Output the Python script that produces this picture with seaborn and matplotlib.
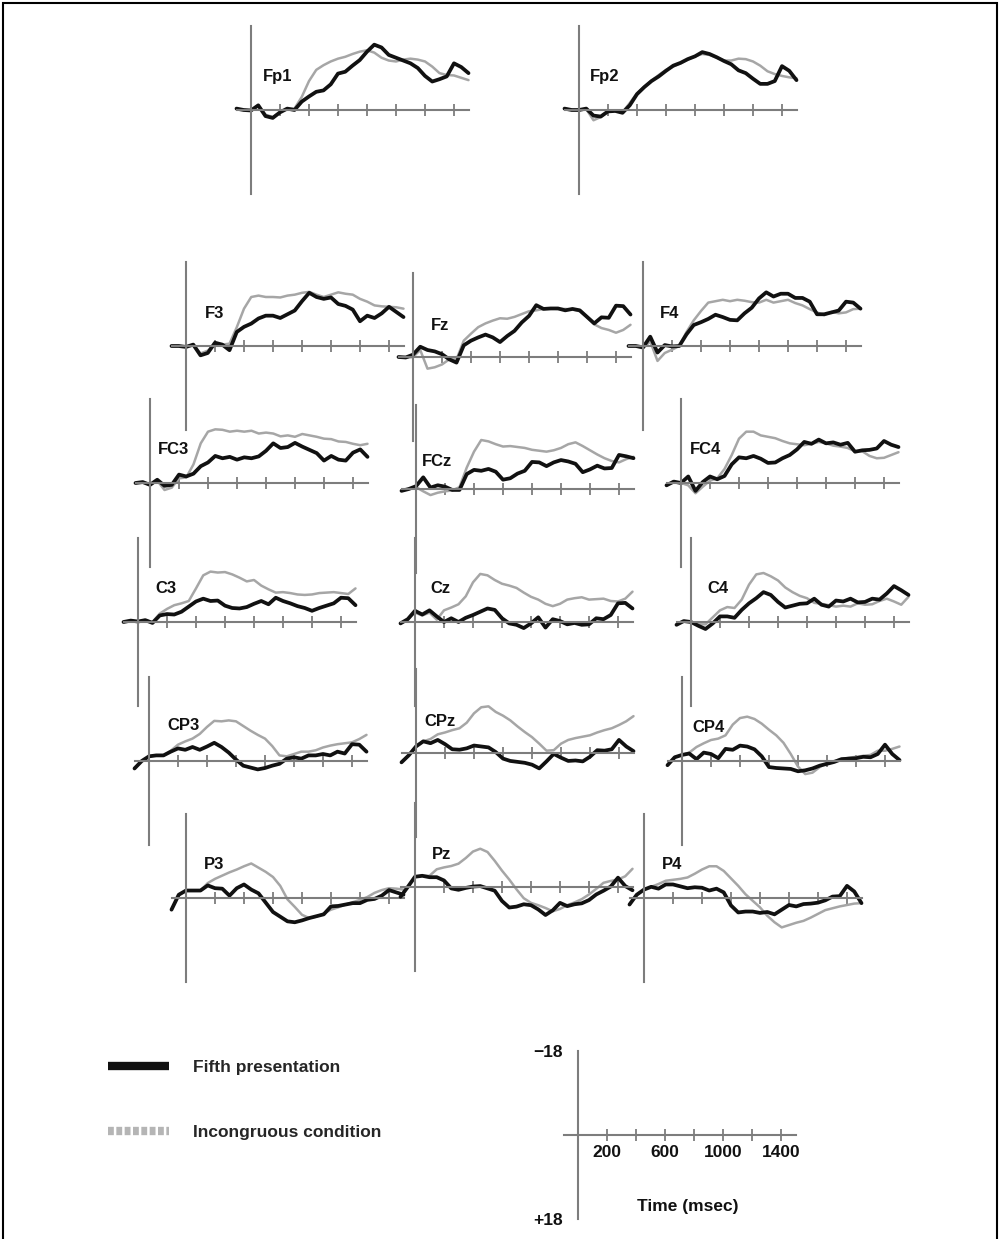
import numpy as np
import matplotlib
matplotlib.use("Agg")
import matplotlib.pyplot as plt
from matplotlib.lines import Line2D
from matplotlib.patches import Rectangle
import seaborn as sns

# time grid (ms) shared by all traces
times = np.arange(-100, 1501, 50)

# amplitudes in microvolts (negative plotted up)
fp1_fifth = [-0.3, 0, 0.1, -1.0, 1.3, 1.7, 0.5, -0.3, 0, -1.8, -2.9, -3.9, -4.2, -5.5, -7.8, -8.2, -9.5, -10.7, -12.5, -14.0, -13.4, -11.8, -11.2, -10.6, -10.0, -9.0, -7.3, -6.1, -6.6, -7.2, -10.0, -9.2, -7.9]
fp1_incong = [-0.3, 0, 0.1, -1.0, 1.0, 1.5, 0.5, -0.3, -0.3, -2.8, -6.2, -8.6, -9.6, -10.4, -11.0, -11.4, -12.0, -12.5, -12.8, -12.3, -11.2, -10.6, -10.4, -10.8, -11.0, -10.8, -10.4, -9.3, -7.9, -7.5, -7.4, -6.9, -6.4]
fp2_fifth = [-0.3, 0, 0, -0.3, 1.2, 1.4, 0.3, 0.2, 0.6, -1.0, -3.4, -4.9, -6.2, -7.2, -8.4, -9.5, -10.1, -10.9, -11.5, -12.4, -12.0, -11.3, -10.5, -9.8, -8.5, -7.9, -6.7, -5.6, -5.6, -6.2, -9.4, -8.4, -6.4]
fp2_incong = [-0.3, 0, 0, -0.2, 2.2, 1.5, 0.3, 0.2, 0.5, -1.5, -3.6, -5.0, -6.3, -7.5, -8.6, -9.3, -10.0, -10.8, -11.5, -12.0, -11.8, -11.2, -10.6, -10.6, -11.0, -10.9, -10.4, -9.5, -8.3, -7.7, -7.3, -7.0, -6.8]
f3_fifth = [0, 0, 0.2, -0.3, 2.0, 1.5, -0.7, -0.3, 0.9, -3.0, -4.1, -4.8, -5.9, -6.5, -6.5, -6.0, -6.8, -7.6, -9.6, -11.4, -10.5, -10.1, -10.4, -9.0, -8.6, -7.8, -5.3, -6.5, -6.0, -7.0, -8.4, -7.3, -6.2]
f3_incong = [0, 0, 0.2, -0.3, 1.6, 1.0, -0.5, -0.3, -0.5, -4.0, -8.0, -10.5, -10.8, -10.5, -10.5, -10.4, -10.8, -11.0, -11.4, -11.6, -11.0, -10.5, -11.0, -11.5, -11.2, -11.0, -10.1, -9.5, -8.7, -8.5, -8.4, -8.3, -8.0]
fz_fifth = [0, 0.1, -0.5, -2.2, -1.5, -1.2, -0.6, 0.5, 1.2, -2.5, -3.5, -4.2, -4.8, -4.2, -3.2, -4.5, -5.6, -7.4, -8.8, -11.1, -10.3, -10.4, -10.4, -10.0, -10.3, -10.0, -8.6, -7.2, -8.5, -8.4, -11.0, -10.9, -9.1]
fz_incong = [0, 0.2, 0, -1.5, 2.5, 2.2, 1.6, 0.5, 0.5, -3.5, -5.0, -6.4, -7.2, -7.8, -8.3, -8.2, -8.6, -9.2, -9.8, -10.0, -10.3, -10.4, -10.3, -10.3, -10.2, -9.8, -8.5, -7.0, -6.2, -5.8, -5.2, -5.8, -6.9]
f4_fifth = [0, 0, 0.3, -2.0, 1.4, -0.2, 0.1, 0, -2.5, -4.5, -5.1, -5.8, -6.7, -6.2, -5.6, -5.5, -7.0, -8.2, -10.2, -11.5, -10.6, -11.2, -11.2, -10.3, -10.3, -9.5, -6.8, -6.8, -7.2, -7.6, -9.5, -9.3, -8.0]
f4_incong = [0, 0, 0.5, -1.0, 3.2, 1.5, 0.8, 0, -3.0, -5.5, -7.5, -9.3, -9.6, -9.9, -9.6, -9.9, -9.7, -9.4, -9.3, -9.9, -9.3, -9.6, -9.9, -9.2, -8.7, -7.9, -7.2, -6.6, -7.3, -7.0, -7.2, -7.9, -8.0]
fc3_fifth = [0, -0.2, 0.4, -0.7, 0.6, 0.4, -1.8, -1.4, -2.0, -3.6, -4.4, -5.8, -5.3, -5.6, -5.0, -5.5, -5.3, -5.7, -6.9, -8.5, -7.5, -7.7, -8.6, -7.8, -7.1, -6.4, -4.8, -5.8, -5.0, -4.8, -6.5, -7.2, -5.6]
fc3_incong = [0, -0.2, 0.4, -0.5, 1.5, 1.0, -1.0, -1.2, -4.0, -8.5, -11.0, -11.5, -11.4, -11.0, -11.2, -11.0, -11.2, -10.6, -10.8, -10.6, -10.0, -10.2, -9.9, -10.5, -10.2, -9.9, -9.5, -9.4, -8.9, -8.8, -8.4, -8.1, -8.4]
fcz_fifth = [0.4, 0, -0.6, -2.5, -0.3, -0.8, -0.5, 0.2, 0.2, -3.2, -4.1, -3.9, -4.3, -3.7, -2.0, -2.3, -3.3, -3.9, -5.8, -5.7, -4.9, -5.7, -6.2, -5.9, -5.4, -3.6, -4.2, -5.0, -4.4, -4.5, -7.3, -7.0, -6.6]
fcz_incong = [0.4, 0, -0.4, 0.5, 1.3, 0.8, 0.5, 0.3, -0.4, -4.6, -8.0, -10.5, -10.2, -9.6, -9.1, -9.2, -9.0, -8.8, -8.4, -8.2, -8.0, -8.3, -8.8, -9.6, -10.0, -9.2, -8.3, -7.4, -6.6, -6.0, -5.7, -6.4, -6.9]
fc4_fifth = [0.5, -0.3, 0, -1.4, 1.7, -0.2, -1.4, -0.8, -1.5, -4.0, -5.5, -5.3, -5.8, -5.2, -4.3, -4.4, -5.3, -6.0, -7.2, -8.8, -8.4, -9.3, -8.5, -8.7, -8.2, -8.6, -6.7, -7.0, -7.1, -7.4, -9.0, -8.2, -7.7]
fc4_incong = [0.5, -0.3, 0, 0.5, 2.2, 0.8, -0.5, -1.0, -3.0, -6.0, -9.5, -11.0, -11.0, -10.2, -9.9, -9.6, -9.0, -8.5, -8.3, -8.1, -8.4, -8.8, -8.5, -8.0, -7.8, -7.5, -6.8, -6.8, -5.8, -5.3, -5.4, -6.0, -6.6]
c3_fifth = [0, -0.3, -0.1, -0.4, 0.2, -1.4, -1.7, -1.6, -2.2, -3.3, -4.4, -5.0, -4.5, -4.6, -3.5, -3.0, -2.9, -3.2, -3.9, -4.5, -3.8, -5.2, -4.5, -4.0, -3.4, -3.0, -2.4, -3.0, -3.5, -4.0, -5.2, -5.1, -3.6]
c3_incong = [0, -0.3, -0.1, -0.4, 0, -1.8, -2.8, -3.6, -4.0, -4.5, -7.2, -10.0, -10.8, -10.6, -10.7, -10.2, -9.5, -8.7, -9.0, -7.8, -7.0, -6.3, -6.4, -6.2, -5.9, -5.8, -5.9, -6.2, -6.3, -6.4, -6.2, -6.0, -7.2]
cz_fifth = [0.3, -0.6, -2.4, -1.6, -2.5, -1.2, 0, -0.8, 0, -0.9, -1.5, -2.2, -2.9, -2.6, -0.8, 0.3, 0.6, 1.3, 0.3, -1.0, 1.2, -0.6, -0.2, 0.5, 0.2, 0.6, 0.5, -0.8, -0.6, -1.5, -4.0, -4.1, -2.9]
cz_incong = [0.3, -0.6, -2.0, -1.4, -2.0, -0.5, -2.5, -3.1, -3.8, -5.5, -8.5, -10.3, -10.0, -9.0, -8.2, -7.8, -7.3, -6.3, -5.4, -4.8, -3.9, -3.4, -3.9, -4.8, -5.1, -5.3, -4.8, -4.9, -5.0, -4.5, -4.4, -5.0, -6.5]
c4_fifth = [0.6, -0.2, 0, 0.8, 1.5, 0.3, -1.2, -1.2, -0.9, -2.6, -4.0, -5.1, -6.4, -5.8, -4.3, -3.1, -3.5, -3.9, -4.0, -5.0, -3.7, -3.3, -4.6, -4.4, -5.0, -4.2, -4.3, -5.0, -4.8, -6.1, -7.7, -6.8, -5.8]
c4_incong = [0.6, -0.2, 0, 0.5, 0.5, -1.0, -2.5, -3.2, -3.0, -4.8, -8.0, -10.2, -10.5, -9.8, -8.9, -7.4, -6.4, -5.6, -5.1, -4.1, -3.9, -3.6, -3.3, -3.5, -3.3, -4.0, -3.7, -3.8, -4.5, -5.0, -4.4, -3.7, -5.4]
cp3_fifth = [1.6, 0, -1.0, -1.2, -1.2, -2.0, -2.7, -2.4, -3.0, -2.4, -3.1, -3.9, -3.0, -1.8, -0.3, 1.0, 1.4, 1.8, 1.5, 1.0, 0.6, -0.5, -0.8, -0.5, -1.2, -1.2, -1.5, -1.2, -2.0, -1.6, -3.6, -3.5, -2.0]
cp3_incong = [1.6, 0, -1.0, -1.2, -1.2, -2.2, -3.5, -4.2, -4.8, -5.8, -7.3, -8.6, -8.5, -8.7, -8.5, -7.5, -6.5, -5.6, -4.8, -3.2, -1.2, -1.0, -1.5, -2.0, -2.0, -2.3, -2.9, -3.3, -3.6, -3.8, -4.0, -4.7, -5.6]
cpz_fifth = [2.0, 0.5, -1.4, -2.5, -2.1, -2.8, -1.9, -0.8, -0.7, -1.0, -1.6, -1.4, -1.2, -0.2, 1.2, 1.7, 1.9, 2.1, 2.5, 3.3, 1.8, 0.2, 1.0, 1.7, 1.6, 1.8, 0.8, -0.6, -0.5, -0.8, -2.8, -1.4, -0.4]
cpz_incong = [2.0, 0.5, -1.4, -2.5, -3.0, -4.0, -4.4, -4.9, -5.3, -6.5, -8.5, -9.8, -10.0, -8.8, -8.0, -7.0, -5.7, -4.5, -3.4, -2.0, -0.5, -0.6, -2.0, -2.8, -3.2, -3.5, -3.8, -4.4, -4.9, -5.3, -6.0, -6.8, -7.9]
cp4_fifth = [0.9, -0.8, -1.3, -1.6, -0.4, -1.8, -1.5, -0.6, -2.6, -2.4, -3.3, -3.1, -2.5, -1.0, 1.3, 1.5, 1.6, 1.7, 2.2, 2.0, 1.6, 1.0, 0.6, 0.2, -0.4, -0.5, -0.6, -0.9, -0.8, -1.5, -3.5, -1.5, -0.2]
cp4_incong = [0.9, -0.8, -1.3, -1.8, -3.0, -3.8, -4.5, -4.8, -5.5, -7.8, -9.2, -9.5, -9.0, -8.0, -6.7, -5.5, -3.9, -1.5, 1.2, 2.8, 2.5, 1.3, 0.4, 0, -0.4, -0.7, -0.9, -1.1, -1.3, -2.2, -2.2, -2.6, -3.1]
p3_fifth = [2.5, -0.7, -1.6, -1.6, -1.6, -2.7, -2.1, -2.0, -0.5, -2.1, -2.9, -1.8, -1.0, 1.0, 3.0, 4.0, 5.0, 5.2, 4.8, 4.3, 3.9, 3.5, 1.8, 1.7, 1.4, 1.1, 1.1, 0.4, 0.2, -0.5, -1.7, -1.2, -0.7]
p3_incong = [2.5, -0.7, -1.6, -1.6, -1.6, -3.2, -4.1, -4.8, -5.5, -6.1, -6.8, -7.4, -6.5, -5.6, -4.5, -2.6, 0.3, 1.9, 3.6, 4.3, 4.0, 3.3, 2.5, 2.0, 1.4, 0.9, 0.4, -0.2, -1.1, -1.7, -2.1, -2.0, -1.8]
pz_fifth = [2.1, 0, -2.2, -2.4, -2.1, -2.1, -1.4, 0.3, 0.6, 0.2, -0.1, -0.2, 0.3, 0.8, 3.0, 4.4, 4.2, 3.7, 3.9, 4.8, 6.0, 5.0, 3.4, 4.1, 3.7, 3.5, 2.8, 1.6, 0.8, -0.1, -2.0, -0.2, 0.7]
pz_incong = [2.1, 0, -2.2, -2.4, -2.4, -3.8, -4.2, -4.5, -5.0, -6.2, -7.6, -8.2, -7.5, -5.6, -3.5, -1.6, 0.5, 2.4, 3.4, 3.9, 4.5, 5.2, 4.7, 3.9, 3.3, 2.6, 1.6, 0.4, -0.9, -1.3, -1.6, -2.3, -3.9]
p4_fifth = [1.4, -0.7, -1.8, -2.4, -2.0, -2.9, -2.9, -2.5, -2.1, -2.3, -2.2, -1.6, -2.0, -1.2, 1.6, 3.1, 2.9, 2.9, 3.2, 3.0, 3.5, 2.5, 1.5, 1.8, 1.3, 1.2, 1.0, 0.5, -0.3, -0.4, -2.6, -1.4, 1.1]
p4_incong = [1.4, -0.7, -1.8, -2.4, -3.0, -3.7, -3.9, -4.1, -4.4, -5.2, -6.1, -6.8, -6.8, -5.8, -4.2, -2.6, -0.8, 0.6, 2.0, 3.8, 5.2, 6.3, 5.8, 5.3, 4.9, 4.2, 3.4, 2.6, 2.2, 1.8, 1.5, 1.2, 1.1]

electrodes = ["Fp1", "Fp2", "F3", "Fz", "F4", "FC3", "FCz", "FC4",
              "C3", "Cz", "C4", "CP3", "CPz", "CP4", "P3", "Pz", "P4"]
traces = {
    "Fp1": (fp1_fifth, fp1_incong), "Fp2": (fp2_fifth, fp2_incong),
    "F3": (f3_fifth, f3_incong), "Fz": (fz_fifth, fz_incong), "F4": (f4_fifth, f4_incong),
    "FC3": (fc3_fifth, fc3_incong), "FCz": (fcz_fifth, fcz_incong), "FC4": (fc4_fifth, fc4_incong),
    "C3": (c3_fifth, c3_incong), "Cz": (cz_fifth, cz_incong), "C4": (c4_fifth, c4_incong),
    "CP3": (cp3_fifth, cp3_incong), "CPz": (cpz_fifth, cpz_incong), "CP4": (cp4_fifth, cp4_incong),
    "P3": (p3_fifth, p3_incong), "Pz": (pz_fifth, pz_incong), "P4": (p4_fifth, p4_incong),
}

# layout: pixel position of each panel origin (t=0, 0 uV) and label offset
origins = {
    "Fp1": (251, 110), "Fp2": (579, 110),
    "F3": (186, 346), "Fz": (413, 357), "F4": (643, 346),
    "FC3": (150, 483), "FCz": (416, 489), "FC4": (681, 483),
    "C3": (138, 622), "Cz": (415, 622), "C4": (691, 622),
    "CP3": (149, 761), "CPz": (416, 753), "CP4": (682, 761),
    "P3": (186, 898), "Pz": (415, 887), "P4": (644, 898),
}
label_off = {
    "Fp1": (12, -34), "Fp2": (11, -34),
    "F3": (19, -33), "Fz": (18, -32), "F4": (17, -33),
    "FC3": (8, -34), "FCz": (6, -28), "FC4": (9, -34),
    "C3": (17, -33), "Cz": (15, -33), "C4": (16, -33),
    "CP3": (18, -35), "CPz": (8, -31), "CP4": (10, -34),
    "P3": (18, -33), "Pz": (17, -32), "P4": (18, -33),
}

W, H = 1000, 1239
PX_MS = 0.145
PX_UV = 84 / 18
AXIS_C = "#7d7d7d"
BLACK_C = "#111111"
GRAY_C = "#a6a6a6"
FS = 12.5

sns.set_theme(style="white")
plt.rcParams["font.family"] = ["Liberation Sans", "DejaVu Sans"]
plt.rcParams["axes.unicode_minus"] = True

fig = plt.figure(figsize=(W / 100, H / 100), dpi=100)
fig.patch.set_facecolor("white")


def panel(vx, hy):
    t0, t1, v = -130, 1530, 20
    left = vx + t0 * PX_MS
    top = hy - v * PX_UV
    w = (t1 - t0) * PX_MS
    h = 2 * v * PX_UV
    ax = fig.add_axes([left / W, 1 - (top + h) / H, w / W, h / H])
    ax.set_xlim(t0, t1)
    ax.set_ylim(v, -v)
    ax.patch.set_alpha(0)
    for s in ["top", "right"]:
        ax.spines[s].set_visible(False)
    ax.spines["left"].set_position(("data", 0))
    ax.spines["left"].set_bounds(-18, 18)
    ax.spines["bottom"].set_position(("data", 0))
    ax.spines["bottom"].set_bounds(-100, 1500)
    for s in ["left", "bottom"]:
        ax.spines[s].set_color(AXIS_C)
        ax.spines[s].set_linewidth(1.5)
    ax.set_xticks(range(200, 1401, 200))
    ax.set_xticklabels([])
    ax.tick_params(axis="x", direction="inout", length=8, width=1.3,
                   color=AXIS_C, bottom=True)
    ax.set_yticks([])
    ax.set_xlabel("")
    ax.set_ylabel("")
    return ax


for name in electrodes:
    vx, hy = origins[name]
    ax = panel(vx, hy)
    fifth, incong = traces[name]
    sns.lineplot(x=times, y=incong, ax=ax, color=GRAY_C, linewidth=1.8)
    sns.lineplot(x=times, y=fifth, ax=ax, color=BLACK_C, linewidth=2.7)
    dx, dy = label_off[name]
    ax.text(dx / PX_MS, dy / PX_UV, name, fontsize=12, fontweight="bold",
            ha="left", va="center", color="#111111")

# calibration axes
ax = panel(578, 1135)
ax.set_xticklabels(["200", "", "600", "", "1000", "", "1400"])
ax.tick_params(axis="x", pad=3, labelsize=FS, labelcolor="#111111")
for lab in ax.get_xticklabels():
    lab.set_fontweight("bold")
ax.set_yticks([-18, 18])
ax.set_yticklabels(["\u221218", "+18"], fontsize=FS, fontweight="bold", color="#111111")
ax.tick_params(axis="y", length=0, pad=11, left=True)
ax.text(760, 15.3, "Time (msec)", fontsize=FS, fontweight="bold",
        ha="center", va="center", color="#111111")

# legend
handles = [Line2D([], [], color=BLACK_C, linewidth=6, solid_capstyle="butt"),
           Line2D([], [], color="#b5b5b5", linewidth=6, linestyle=(0, (0.7, 0.3)))]
fig.legend(handles, ["Fifth presentation", "Incongruous condition"],
           loc="center left", bbox_to_anchor=(108 / W, 1 - 1100 / H),
           frameon=False, prop={"weight": "bold", "size": FS},
           handlelength=3.5, handletextpad=1.4, labelspacing=2.9,
           borderpad=0, borderaxespad=0)

# outer frame
fig.patches.append(Rectangle((0.003, -0.01), 0.994, 1.0075, transform=fig.transFigure,
                             fill=False, edgecolor="black", linewidth=1.5))

fig.savefig("out.png", dpi=100, facecolor="white")
